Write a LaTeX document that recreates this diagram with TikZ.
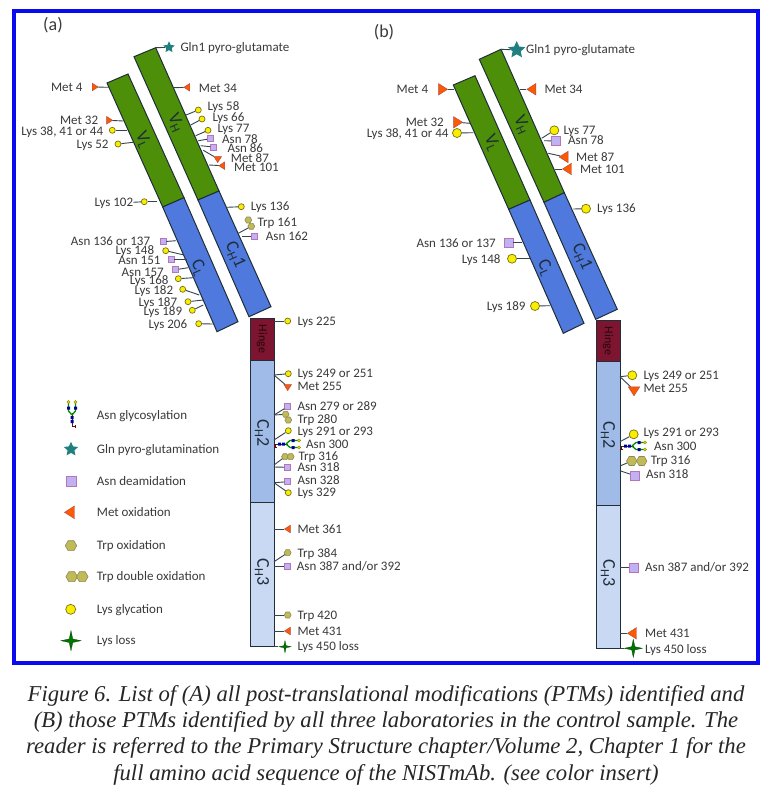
\documentclass[tikz,border=0pt]{standalone}
\usepackage{fontspec}
\setmainfont{Carlito}
\newfontfamily\capfont{Liberation Serif}
\usetikzlibrary{shapes.geometric,shapes.misc}
\definecolor{vgreen}{HTML}{4E8F0A}
\definecolor{cblue}{HTML}{4F79DC}
\definecolor{hingered}{HTML}{7D1530}
\definecolor{chtwo}{HTML}{A0BBE8}
\definecolor{chthree}{HTML}{CAD9F3}
\definecolor{edge}{HTML}{1F2E38}
\definecolor{txt}{HTML}{3A3A3A}
\definecolor{frameblue}{HTML}{0A0AF0}
\tikzset{
  dom/.style={draw=edge,line width=1pt},
  domlbl/.style={font=\fontsize{18}{18}\selectfont,text=edge,inner sep=0},
  hingelbl/.style={font=\fontsize{12}{12}\selectfont,text=black!70!hingered,inner sep=0,rotate=-90},
  lbl/.style={font=\fontsize{13}{14}\selectfont,text=txt,inner sep=0,text height=8.5pt,text depth=2.5pt,yshift=-1pt},
  captxt/.style={font=\capfont\itshape\fontsize{22.7}{24}\selectfont,text=black!85},
  conn/.style={draw=edge!90,line width=0.9pt},
  lys/.style={circle,draw=black!20!olive,fill=yellow!95!olive,line width=0.7pt,inner sep=0,minimum size=\ms},
  asn/.style={rectangle,draw=violet!55,fill=violet!35!blue!30,line width=0.6pt,inner sep=0,minimum size=\ms},
  trp/.style={regular polygon,regular polygon sides=6,draw=black!45!olive!70,fill=olive!55!white,line width=0.6pt,inner sep=0,minimum size=1.15*\ms},
  gln/.style={star,star points=5,star point ratio=2.1,fill=teal!75!gray,inner sep=0,minimum size=2*\ms},
  loss/.style={star,star points=4,star point ratio=4,draw=green!30!black,fill=green!45!black,line width=0.3pt,inner sep=0,minimum size=2*\ms},
  met/.style={isosceles triangle,isosceles triangle apex angle=65,draw=red!50!black!70,fill=orange!70!red,line width=0.4pt,inner sep=0,minimum size=\ms},
  metE/.style={met},
  metW/.style={met,shape border rotate=180},
  metS/.style={met,shape border rotate=270},
  glycan/.pic={
    \draw[edge,line width=0.9pt] (0,0) -- (14,0);
    \draw[red!50!black,line width=1pt] (1,0) -- (1,3.5) (-0.5,3.5) -- (2.5,3.5);
    \draw[green!55!black,line width=1.3pt] (12,0) -- (16,-3.5) -- (24,-3.5) (12,0) -- (16,3.5) -- (24,3.5);
    \fill[blue!60!black] (4,-1.5) rectangle +(3,3) (8,-1.5) rectangle +(3,3) (17.5,-5) rectangle +(3,3) (17.5,2) rectangle +(3,3);
    \draw[olive,fill=yellow!70!olive,line width=0.4pt] (25,-3.5) circle (1.7) (25,3.5) circle (1.7);
  }
}
\newcommand{\ptmlist}[2]{%
  \foreach \n/\st/\ex/\ey/\mx/\my/\lx/\ly/\t in {#2}{
    \coordinate (e\n) at (\ex,\ey);
    \node[\st] (m\n) at (\mx,\my) {};
    \node[lbl,anchor=#1] (l\n) at (\lx,\ly) {\t};
    \draw[conn] (e\n) -- (m\n);
  }}
\begin{document}
\begin{tikzpicture}[x=1pt,y=-1pt]
  \useasboundingbox (0,0) rectangle (769,793);
  \fill[white] (0,0) rectangle (769,793);
  \draw[frameblue,line width=4pt] (14,10.5) rectangle (757.5,663);

  \node[font=\fontsize{18}{18}\selectfont,text=txt] (tagA) at (53,25) {(a)};
  \node[font=\fontsize{18}{18}\selectfont,text=txt] (tagB) at (384,32) {(b)};

  % panel a, domains
  \draw[dom,fill=vgreen] (134,56.7) -- (155.7,47.7) -- (219,191) -- (198,200) -- cycle;
  \draw[dom,fill=cblue] (198,200) -- (219,191) -- (271,306.7) -- (249,316.7) -- cycle;
  \draw[dom,fill=vgreen] (107,83) -- (128,74) -- (184,197.7) -- (162.7,207) -- cycle;
  \draw[dom,fill=cblue] (162.7,207) -- (184,197.7) -- (238,321.7) -- (217,331.7) -- cycle;
  \draw[dom,fill=hingered] (250,318) rectangle (274,360);
  \draw[dom,fill=chtwo] (250,360) rectangle (274,502.7);
  \draw[dom,fill=chthree] (250,502.7) rectangle (274,646.7);
  \node[domlbl,rotate=-66] (aVL) at (143,140) {V\textsubscript{L}};
  \node[domlbl,rotate=-66] (aVH) at (175.7,123) {V\textsubscript{H}};
  \node[domlbl,rotate=-66] (aCL) at (198.3,268) {C\textsubscript{L}};
  \node[domlbl,rotate=-66] (aCH1) at (235,255) {C\textsubscript{H}1};
  \node[hingelbl] (aHinge) at (262,339) {Hinge};
  \node[domlbl,rotate=-90] (aCH2) at (262,433) {C\textsubscript{H}2};
  \node[domlbl,rotate=-90] (aCH3) at (262,572) {C\textsubscript{H}3};

  % panel a, modifications
  \begin{scope}
    \def\ms{6pt}
    \ptmlist{west}{%
      aQ1/gln/155.7/47.7/169/47.3/180.3/47/{Gln1 pyro-glutamate},
      aM34/metW/174/87.7/187.7/87.3/198.7/88/{Met 34},
      aK58/lys/186/115/198.3/110/207.3/106.7/{Lys 58},
      aK66/lys/190.7/125/202/119/212.3/117.7/{Lys 66},
      aK77/lys/195.7/135.7/208/130.3/217.3/128.7/{Lys 77},
      aN78/asn/198.3/140.7/210.3/138.7/222/139/{Asn 78},
      aN86/asn/200.7/145.7/213.7/147/227.3/148.3/{Asn 86},
      aM87/metS/203.3/150.3/217.7/158.7/230.7/158/{Met 87},
      aM101/metW/209/165/222.7/165.7/234/167.3/{Met 101},
      aK136/lys/226.7/207.3/241.3/206.7/250.7/206.3/{Lys 136},
      aW161/trp/238.3/233.3/251.3/226.3/257.3/222.3/{Trp 161},
      aN162/asn/241.7/236.7/254.3/236.7/265.7/236.3/{Asn 162},
      aK225/lys/274/321/287.7/321/297.3/321/{Lys 225},
      aK249/lys/274/375/288.3/373.7/297.3/373.7/{Lys 249 or 251},
      aM255/metS/274/375/287.7/386.7/297.3/386.7/{Met 255},
      aN279/asn/274/415/287.7/406.7/297.3/406.3/{Asn 279 or 289},
      aW280/trp/274/415/285.7/414.3/297.3/419/{Trp 280},
      aK291/lys/274/440/288.3/430.7/297.3/431.3/{Lys 291 or 293},
      aW316/trp/274/465/285/456.7/298.3/456.7/{Trp 316},
      aN318/asn/274/467/287.7/467.3/297.3/467.7/{Asn 318},
      aN328/asn/274/482.7/287.7/481.7/297.3/480.7/{Asn 328},
      aK329/lys/274/482.7/288.3/492.7/297.3/492.7/{Lys 329},
      aM361/metW/274/529/288.3/529/297.3/529/{Met 361},
      aW384/trp/274/561.7/287.7/552.7/297.3/553.3/{Trp 384},
      aN387/asn/274/566/287.7/566/296.7/566/{Asn 387 and/or 392},
      aW420/trp/274/615/287.7/615/297.3/615/{Trp 420},
      aM431/metW/274/631/288.3/631/297.3/631/{Met 431},
      aK450/loss/274/646.7/285/646.7/297.3/646.7/{Lys 450 loss}}
    \ptmlist{east}{%
      aM4/metE/108.3/87.3/94.3/87/82.7/87.7/{Met 4},
      aM32/metE/123.3/121/108.7/120.3/98.3/120.3/{Met 32},
      aK38/lys/126.7/130.3/112.3/130.3/103.3/131/{Lys 38, 41 or 44},
      aK52/lys/133.3/142.3/118/144/108.7/144.3/{Lys 52},
      aK102/lys/157.3/201.7/144.3/201.7/133.3/202.3/{Lys 102},
      aN136/asn/176/240.7/163/241.7/150.3/241/{Asn 136 or 137},
      aK148/lys/184/255/165.7/250.7/154.3/250.7/{Lys 148},
      aN151/asn/186.7/259.3/171/259.3/160.7/260.3/{Asn 151},
      aN157/asn/188.3/267.7/175.3/269.7/164/272/{Asn 157},
      aK168/lys/193.3/277.7/178.3/278.7/168.7/280.7/{Lys 168},
      aK182/lys/199.3/295/182.7/289.3/173.3/290.7/{Lys 182},
      aK187/lys/203.3/300/188/301.7/177.3/302/{Lys 187},
      aK189/lys/203.3/305/192.3/310.3/182.3/311.7/{Lys 189},
      aK206/lys/212.7/324/198.7/323.7/187.3/324.3/{Lys 206}}
    \draw[conn] (laK102) -- (maK102);
    \node[trp] (aW161b) at (248.3,220) {};
    \node[trp] (aW280b) at (288.3,420) {};
    \node[trp] (aW316b) at (290.7,456.7) {};
    \pic (aGly) at (274,444) {glycan};
    \node[lbl,anchor=west] (lN300a) at (306,444.3) {Asn 300};
  \end{scope}

  % panel b, domains
  \draw[dom,fill=vgreen] (479.3,59.3) -- (501,49.3) -- (564.3,192.7) -- (544,202.3) -- cycle;
  \draw[dom,fill=cblue] (544,202.3) -- (564.3,192.7) -- (617.3,309.3) -- (595.7,319.3) -- cycle;
  \draw[dom,fill=vgreen] (453.3,85) -- (475,75.7) -- (530,200) -- (508.7,209.3) -- cycle;
  \draw[dom,fill=cblue] (508.7,209.3) -- (530,200) -- (584,323.3) -- (563.3,333.3) -- cycle;
  \draw[dom,fill=hingered] (596,320) rectangle (620,361.7);
  \draw[dom,fill=chtwo] (596,361.7) rectangle (620,505);
  \draw[dom,fill=chthree] (596,505) rectangle (620,648.3);
  \node[domlbl,rotate=-66] (bVL) at (491.7,143) {V\textsubscript{L}};
  \node[domlbl,rotate=-66] (bVH) at (521.7,125) {V\textsubscript{H}};
  \node[domlbl,rotate=-66] (bCL) at (545,268) {C\textsubscript{L}};
  \node[domlbl,rotate=-66] (bCH1) at (581.7,256.7) {C\textsubscript{H}1};
  \node[hingelbl] (bHinge) at (608,341) {Hinge};
  \node[domlbl,rotate=-90] (bCH2) at (608,435) {C\textsubscript{H}2};
  \node[domlbl,rotate=-90] (bCH3) at (608,573) {C\textsubscript{H}3};

  % panel b, modifications
  \begin{scope}
    \def\ms{9pt}
    \ptmlist{west}{%
      bQ1/gln/501/49.3/516.7/50/526/49.3/{Gln1 pyro-glutamate},
      bM34/metW/520/89.3/532.7/89.3/544.3/89/{Met 34},
      bK77/lys/541.7/138.3/554.3/130.3/563.3/130.7/{Lys 77},
      bN78/asn/544/140.7/555.7/141/568/140.7/{Asn 78},
      bM87/metW/548.3/153.3/565/157/576/157/{Met 87},
      bM101/metW/555/169/568.3/169/580/169/{Met 101},
      bK136/lys/573.3/209/586/208.7/597/208.3/{Lys 136},
      bK249/lys/620/376.7/632.3/375.3/643.3/375.7/{Lys 249 or 251},
      bM255/metS/620/376.7/634/390/643.3/388.7/{Met 255},
      bK291/lys/620/441.7/633.7/434.3/643.3/432/{Lys 291 or 293},
      bW316/trp/620/466/631.7/461/650.7/460.3/{Trp 316},
      bN318/asn/620/470.7/634.7/475.7/646/474.7/{Asn 318},
      bN387/asn/620/567.7/633.3/567.7/645/567/{Asn 387 and/or 392},
      bM431/metW/620/633.3/633.3/633.3/645/633/{Met 431},
      bK450/loss/620/648.3/633.3/648.3/645/649/{Lys 450 loss}}
    \ptmlist{east}{%
      bM4/metE/454/89.3/441.7/89.3/428.3/89/{Met 4},
      bM32/metE/470/123.3/456.7/122.3/444/122.3/{Met 32},
      bK38/lys/473.3/132.7/457/133/448.7/133/{Lys 38, 41 or 44},
      bN136/asn/522.3/242.7/508.3/242.7/496/243.3/{Asn 136 or 137},
      bK148/lys/530/258.7/512/258.7/500.7/259/{Lys 148},
      bK189/lys/550/305.7/535/306/525.7/306.3/{Lys 189}}
    \node[trp] (bW316b) at (641.7,461) {};
    \pic (bGly) at (620,446) {glycan};
    \node[lbl,anchor=west] (lN300b) at (654,446.3) {Asn 300};
  \end{scope}

  % legend
  \begin{scope}
    \def\ms{10pt}
    \pic[rotate=90] (legGly) at (72,427) {glycan};
    \node[gln,minimum size=15pt] (legQ) at (71,449.3) {};
    \node[asn] (legN) at (71,481) {};
    \node[metW] (legM) at (71,512.3) {};
    \node[trp] (legW) at (71,545.7) {};
    \node[trp] (legWa) at (71.7,576.7) {};
    \node[trp] (legWb) at (82.3,576.7) {};
    \node[lys] (legK) at (70.7,609.3) {};
    \node[loss] (legL) at (71,640.7) {};
  \end{scope}
  \node[lbl,anchor=west] (t1) at (96.7,415) {Asn glycosylation};
  \node[lbl,anchor=west] (t2) at (96.7,449.3) {Gln pyro-glutamination};
  \node[lbl,anchor=west] (t3) at (96.7,481) {Asn deamidation};
  \node[lbl,anchor=west] (t4) at (96.7,512.3) {Met oxidation};
  \node[lbl,anchor=west] (t5) at (96.7,545) {Trp oxidation};
  \node[lbl,anchor=west] (t6) at (96.7,576) {Trp double oxidation};
  \node[lbl,anchor=west] (t7) at (96.7,609.3) {Lys glycation};
  \node[lbl,anchor=west] (t8) at (96.7,640.7) {Lys loss};

  % caption
  \node[captxt] (cap1) at (386,696) {Figure 6. List of (A) all post-translational modifications (PTMs) identified and};
  \node[captxt] (cap2) at (386,722) {(B) those PTMs identified by all three laboratories in the control sample. The};
  \node[captxt] (cap3) at (386,748) {reader is referred to the Primary Structure chapter/Volume 2, Chapter 1 for the};
  \node[captxt] (cap4) at (386,775) {full amino acid sequence of the NISTmAb. (see color insert)};
\end{tikzpicture}
\end{document}
